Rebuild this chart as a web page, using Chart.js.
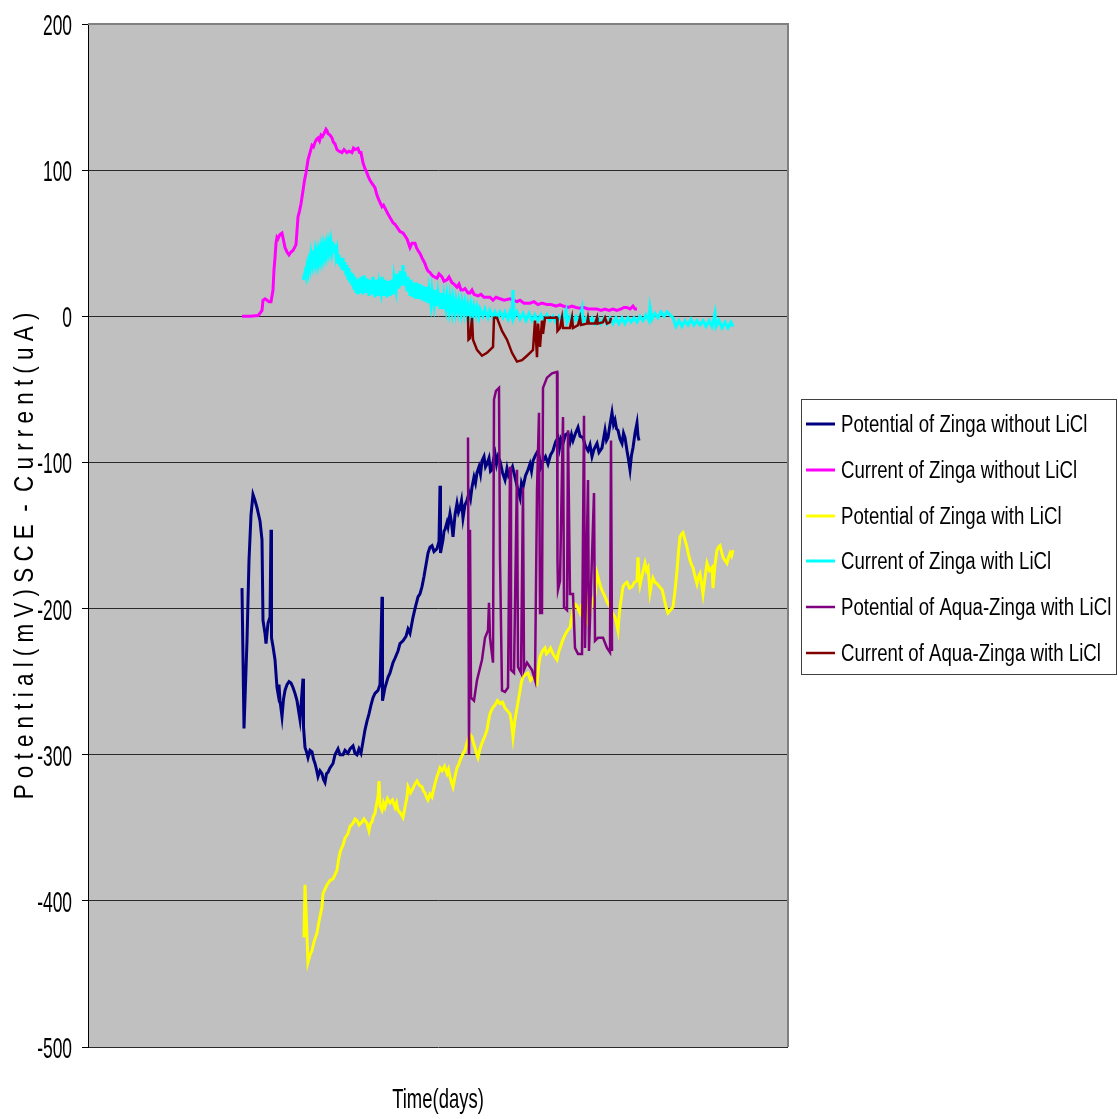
<!DOCTYPE html>
<html>
<head>
<meta charset="utf-8">
<title>Zinga potential and current</title>
<script src="https://cdn.jsdelivr.net/npm/chart.js@4.4.1/dist/chart.umd.min.js"></script>
<style>
  html, body { margin: 0; padding: 0; background: #ffffff; }
  canvas { display: block; }
</style>
</head>
<body>
<canvas id="chart" width="1118" height="1119"></canvas>
<script>
// Series names, in legend order
const seriesNames = [
  'Potential of Zinga without LiCl',
  'Current of Zinga without LiCl',
  'Potential of Zinga with LiCl',
  'Current of Zinga with LiCl',
  'Potential of Aqua-Zinga with LiCl',
  'Current of Aqua-Zinga with LiCl'
];
const seriesColors = ['#000080', '#ff00ff', '#ffff00', '#00ffff', '#800080', '#800000'];

// Axis texts and ticks
const yTickValues = [200, 100, 0, -100, -200, -300, -400, -500];
const yTickLabels = ['200', '100', '0', '-100', '-200', '-300', '-400', '-500'];
const xTitle = 'Time(days)';
const yTitle = 'P o t e n t i a l ( m V ) S C E  -  C u r r e n t ( u A )';

// [time (days), potential (mV SCE)]
const potentialZinga = [
  [15.4,-186],[15.6,-282],[15.9,-222],[16.1,-167],[16.3,-136],[16.5,-122],[16.7,-126],[16.9,-131],[17.2,-140],[17.4,-153],
  [17.5,-208],[17.7,-217],[17.8,-224],[18.0,-210],[18.2,-206],[18.3,-146],[18.35,-220],[18.5,-226],[18.7,-235],[18.9,-254],
  [19.0,-258],[19.1,-252],[19.2,-263],[19.4,-274],[19.55,-262],[19.7,-256],[19.9,-252],[20.1,-250],[20.3,-251],[20.5,-254],
  [20.7,-258],[20.9,-263],[21.2,-276],[21.5,-248],[21.55,-281],[21.7,-295],[21.85,-298],[22.0,-302],[22.2,-297],[22.4,-298],
  [22.55,-303],[22.7,-306],[22.85,-310],[23.0,-315],[23.2,-311],[23.4,-313],[23.55,-317],[23.7,-319],[23.85,-313],[24.0,-312],
  [24.2,-309],[24.5,-306],[24.7,-300],[25.0,-296],[25.2,-300],[25.5,-300],[25.7,-297],[26.0,-299],[26.2,-296],[26.5,-294],
  [26.7,-299],[26.9,-300],[27.1,-296],[27.3,-299],[27.5,-291],[27.7,-283],[27.9,-277],[28.1,-272],[28.3,-266],[28.5,-261],
  [28.7,-258],[29.0,-256],[29.2,-252],[29.4,-192],[29.45,-263],[29.7,-254],[30.0,-247],[30.2,-244],[30.5,-237],[30.7,-234],
  [31.0,-229],[31.2,-224],[31.5,-222],[31.8,-219],[32.0,-214],[32.2,-217],[32.5,-206],[32.7,-200],[33.0,-192],[33.2,-190],
  [33.4,-185],[33.6,-178],[33.7,-174],[33.9,-166],[34.0,-162],[34.2,-158],[34.4,-157],[34.6,-161],[34.9,-159],[35.1,-154],
  [35.2,-116],[35.25,-162],[35.5,-153],[35.6,-147],[35.7,-146],[35.9,-141],[36.0,-144],[36.2,-135],[36.35,-141],[36.5,-151],
  [36.7,-136],[36.9,-128],[37.05,-134],[37.2,-131],[37.35,-126],[37.5,-138],[37.7,-129],[37.9,-126],[38.1,-121],[38.25,-125],
  [38.4,-117],[38.6,-110],[38.75,-114],[38.9,-107],[39.1,-103],[39.25,-108],[39.4,-99],[39.6,-96],[39.75,-103],[39.9,-101],
  [40.1,-97],[40.25,-106],[40.4,-105],[40.55,-98],[40.7,-94],[40.85,-101],[41.0,-96],[41.2,-99],[41.45,-107],[41.7,-112],
  [41.9,-104],[42.05,-109],[42.2,-107],[42.45,-103],[42.7,-110],[42.9,-116],[43.05,-120],[43.2,-124],[43.35,-114],[43.5,-117],
  [43.75,-109],[44.0,-105],[44.2,-101],[44.35,-106],[44.5,-99],[44.75,-95],[45.0,-92],[45.15,-97],[45.3,-103],[45.5,-99],
  [45.75,-96],[46.0,-101],[46.25,-95],[46.5,-92],[46.75,-86],[47.0,-83],[47.15,-90],[47.3,-84],[47.5,-87],[47.75,-81],
  [48.0,-80],[48.2,-86],[48.35,-81],[48.5,-85],[48.75,-80],[49.0,-76],[49.2,-82],[49.5,-83],[49.75,-89],[50.0,-92],
  [50.2,-88],[50.4,-96],[50.6,-91],[50.9,-87],[51.1,-93],[51.4,-90],[51.55,-84],[51.7,-78],[51.85,-85],[52.0,-83],
  [52.2,-74],[52.4,-66],[52.55,-74],[52.7,-71],[52.85,-77],[53.0,-78],[53.2,-84],[53.4,-87],[53.55,-80],[53.7,-83],
  [53.9,-92],[54.05,-98],[54.2,-105],[54.35,-95],[54.5,-90],[54.7,-80],[54.9,-73],[55.0,-82],[55.1,-85]
];

// [time (days), current (uA)]
const currentZinga = [
  [15.4,0],[16.2,0],[17.0,0.5],[17.2,2],[17.4,4],[17.5,11],[17.7,12],[17.9,11],[18.1,10],[18.3,10],
  [18.5,18],[18.6,32],[18.7,40],[18.8,50],[18.9,54],[19.0,53],[19.2,56],[19.4,57],[19.55,52],[19.7,47],
  [19.9,44],[20.1,42],[20.3,44],[20.5,45],[20.65,47],[20.8,49],[21.0,68],[21.15,72],[21.3,77],[21.5,86],
  [21.65,93],[21.8,98],[22.0,107],[22.2,112],[22.4,117],[22.55,116],[22.7,119],[22.85,121],[23.0,122],[23.15,120],
  [23.3,124],[23.45,123],[23.6,125],[23.8,128],[23.9,127],[24.0,125],[24.2,124],[24.4,122],[24.55,119],[24.7,118],
  [24.9,114],[25.1,113],[25.4,112],[25.6,114],[25.9,112],[26.1,113],[26.4,112],[26.55,115],[26.7,114],[27.0,115],
  [27.15,112],[27.3,112],[27.5,105],[27.7,101],[27.9,98],[28.0,96],[28.2,93],[28.4,91],[28.7,88],[28.85,84],
  [29.0,81],[29.2,78],[29.4,75],[29.55,76],[29.7,74],[29.85,72],[30.0,70],[30.25,67],[30.5,64],[30.7,63],
  [31.0,60],[31.2,58],[31.5,57],[31.7,55],[31.9,53],[32.05,50],[32.2,47],[32.4,50],[32.7,50],[32.85,47],
  [33.0,45],[33.2,43],[33.4,40],[33.55,38],[33.7,36],[33.85,33],[34.0,31],[34.2,30],[34.4,28],[34.6,27],
  [34.9,26],[35.1,29],[35.4,27],[35.6,24],[35.9,25],[36.1,27],[36.4,23],[36.6,22],[36.9,20],[37.1,22],
  [37.3,18],[37.5,18],[37.7,19],[38.0,16],[38.2,16],[38.4,18],[38.6,15],[39.0,14],[39.3,15],[39.6,13],
  [40.0,13],[40.2,13],[40.5,11],[40.8,13],[41.2,12],[41.6,11],[42.2,12],[42.5,11],[42.9,10],[43.2,11],
  [43.6,9],[44.2,9],[44.6,10],[45.0,8],[45.4,9],[45.9,8],[46.3,8],[46.8,7],[47.2,8],[47.5,7],
  [48.0,6],[48.4,7],[48.8,6],[49.2,5.5],[49.6,6],[50.0,5],[50.4,5],[50.9,5],[51.3,4],[51.7,5],
  [52.1,4],[52.5,5],[52.9,4],[53.3,5],[53.6,6],[53.9,6],[54.2,5],[54.5,7],[54.7,5],[54.9,5]
];

const potentialZingaLiCl = [
  [21.6,-425],[21.7,-389],[21.8,-406],[22.0,-442],[22.2,-437],[22.4,-434],[22.6,-428],[22.9,-422],[23.1,-414],[23.4,-404],
  [23.5,-395],[23.7,-392],[23.9,-389],[24.2,-386],[24.5,-385],[24.7,-382],[24.9,-379],[25.05,-372],[25.2,-367],[25.35,-364],
  [25.5,-362],[25.7,-357],[26.0,-354],[26.2,-349],[26.5,-347],[26.7,-344],[26.9,-345],[27.1,-348],[27.4,-346],[27.6,-344],
  [27.9,-347],[28.1,-352],[28.25,-347],[28.4,-346],[28.55,-342],[28.7,-340],[28.85,-334],[29.0,-329],[29.1,-318],[29.2,-335],
  [29.4,-338],[29.55,-333],[29.7,-336],[29.95,-330],[30.2,-333],[30.45,-331],[30.7,-336],[30.85,-333],[31.0,-338],[31.25,-340],
  [31.5,-343],[31.7,-336],[31.9,-329],[32.0,-322],[32.25,-326],[32.5,-323],[32.7,-320],[32.9,-318],[33.15,-321],[33.4,-322],
  [33.55,-325],[33.7,-326],[33.85,-329],[34.0,-331],[34.2,-327],[34.4,-329],[34.55,-324],[34.7,-320],[34.85,-316],[35.0,-313],
  [35.2,-309],[35.4,-311],[35.65,-308],[35.9,-313],[36.05,-310],[36.2,-315],[36.35,-319],[36.5,-322],[36.7,-315],[36.9,-309],
  [37.05,-307],[37.2,-304],[37.45,-300],[37.7,-297],[37.85,-293],[38.0,-290],[38.2,-286],[38.4,-288],[38.55,-292],[38.7,-295],
  [38.85,-299],[39.0,-302],[39.2,-296],[39.4,-292],[39.65,-288],[39.9,-283],[40.05,-277],[40.2,-272],[40.45,-268],[40.7,-266],
  [40.95,-263],[41.2,-265],[41.45,-264],[41.7,-268],[41.95,-270],[42.2,-272],[42.35,-278],[42.5,-288],[42.7,-276],[42.9,-268],
  [43.05,-262],[43.2,-256],[43.35,-250],[43.5,-247],[43.75,-245],[44.0,-244],[44.25,-249],[44.5,-247],[44.7,-249],[44.9,-251],
  [45.05,-240],[45.2,-233],[45.45,-229],[45.7,-227],[45.85,-231],[46.0,-230],[46.25,-227],[46.5,-231],[46.7,-233],[46.9,-235],
  [47.05,-230],[47.2,-227],[47.45,-222],[47.7,-218],[47.95,-215],[48.2,-213],[48.35,-207],[48.5,-201],[48.7,-197],[48.9,-198],
  [49.05,-201],[49.2,-203],[49.35,-198],[49.5,-199],[49.7,-204],[49.9,-208],[50.0,-196],[50.2,-203],[50.35,-198],[50.5,-194],
  [50.7,-191],[50.9,-176],[51.1,-181],[51.3,-186],[51.5,-189],[51.7,-192],[51.95,-196],[52.2,-199],[52.45,-203],[52.7,-206],
  [52.85,-210],[53.0,-215],[53.1,-206],[53.2,-199],[53.35,-192],[53.5,-185],[53.7,-183],[53.9,-182],[54.15,-186],[54.4,-185],
  [54.65,-182],[54.9,-181],[55.0,-165],[55.1,-178],[55.2,-184],[55.45,-176],[55.7,-169],[55.85,-174],[56.0,-172],[56.1,-180],
  [56.2,-189],[56.35,-183],[56.5,-179],[56.7,-182],[56.9,-183],[57.15,-185],[57.4,-187],[57.55,-191],[57.7,-196],[57.85,-200],
  [58.0,-203],[58.25,-201],[58.5,-199],[58.7,-188],[58.9,-174],[59.05,-161],[59.2,-151],[59.35,-149],[59.5,-148],[59.7,-153],
  [59.9,-158],[60.05,-163],[60.2,-167],[60.35,-170],[60.5,-172],[60.7,-178],[60.9,-183],[61.05,-178],[61.2,-176],[61.35,-183],
  [61.5,-190],[61.7,-179],[61.9,-169],[62.15,-174],[62.4,-172],[62.5,-186],[62.7,-170],[62.9,-160],[63.05,-158],[63.2,-157],
  [63.35,-161],[63.5,-165],[63.7,-167],[63.9,-169],[64.05,-165],[64.2,-162],[64.35,-164],[64.5,-160]
];

const currentZingaLiCl = [
  [21.5,25],[21.6,27],[21.7,30],[21.8,27],[21.9,34],[22.0,30],[22.1,37],[22.2,33],[22.3,42],[22.4,37],
  [22.5,45],[22.6,38],[22.7,44],[22.8,37],[22.9,43],[23.0,37],[23.1,44],[23.2,39],[23.3,46],[23.4,40],
  [23.5,47],[23.6,41],[23.7,47],[23.8,42],[23.9,49],[24.0,44],[24.1,50],[24.2,45],[24.3,51],[24.4,45],
  [24.5,51],[24.6,43],[24.7,49],[24.8,41],[24.9,45],[25.0,36],[25.1,42],[25.2,34],[25.3,40],[25.4,32],
  [25.5,40],[25.6,31],[25.7,37],[25.8,28],[25.9,35],[26.0,25],[26.1,33],[26.2,23],[26.3,30],[26.4,21],
  [26.5,29],[26.6,18],[26.7,27],[26.8,16],[26.9,25],[27.0,15],[27.1,26],[27.2,16],[27.3,27],[27.5,15],
  [27.6,28],[27.8,16],[27.9,26],[28.1,14],[28.2,25],[28.4,15],[28.5,27],[28.7,13],[28.8,25],[29.0,14],
  [29.1,23],[29.3,16],[29.4,27],[29.6,14],[29.7,25],[29.9,13],[30.0,24],[30.2,14],[30.3,25],[30.5,15],
  [30.6,27],[30.8,18],[30.9,29],[31.1,19],[31.2,31],[31.4,21],[31.5,35],[31.6,21],[31.7,30],[31.9,17],
  [32.0,27],[32.2,14],[32.3,25],[32.5,13],[32.6,23],[32.8,12],[32.9,23],[33.1,12],[33.2,22],[33.4,11],
  [33.5,21],[33.7,10],[33.8,20],[34.0,9],[34.1,18],[34.3,8],[34.4,18],[34.6,8],[34.7,18],[34.9,7],
  [35.0,16],[35.2,6],[35.3,16],[35.5,5],[35.6,14],[35.8,5],[35.9,14],[36.1,4],[36.2,13],[36.4,3],
  [36.5,12],[36.7,3],[36.8,11],[37.0,3],[37.1,10],[37.3,2],[37.4,10],[37.6,2],[37.7,9],[37.9,1],
  [38.0,8],[38.2,1],[38.3,8],[38.5,1],[38.6,7],[38.8,1],[38.9,6],[39.1,0],[39.2,5],[39.5,0],
  [39.7,5],[40.0,-1],[40.2,4],[40.5,-1],[40.7,3],[41.0,-1],[41.2,3],[41.5,-1],[41.7,3],[42.0,-2],
  [42.2,3],[42.4,-1],[42.5,18],[42.6,-1],[42.9,3],[43.2,-2],[43.5,2],[43.8,-3],[44.1,2],[44.4,-3],
  [44.7,1],[45.0,-3],[45.3,1],[45.6,-3],[45.9,1],[46.2,-3],[46.5,0],[46.8,-4],[47.1,0],[47.4,-4],
  [47.8,4],[47.9,-4],[48.2,0],[48.5,-4],[48.8,0],[49.1,-4],[49.4,5],[49.5,-4],[49.8,-1],[50.1,-4],
  [50.4,-1],[50.7,-5],[51.0,-1],[51.3,-5],[51.6,-1],[51.9,-5],[52.2,-1],[52.5,-5],[52.8,-1],[53.1,-5],
  [53.4,-1],[53.7,-5],[54.0,-1],[54.3,-4],[54.6,-1],[54.9,-4],[55.2,0],[55.5,-3],[55.8,1],[56.1,-3],
  [56.2,6],[56.4,-2],[56.7,2],[57.0,-1],[57.3,3],[57.6,0],[57.9,3],[58.2,1],[58.5,-1],[58.8,-7],
  [59.1,-3],[59.4,-7],[59.7,-3],[60.0,-6],[60.3,-2],[60.6,-6],[60.9,-3],[61.2,-6],[61.5,-3],[61.8,-7],
  [62.1,-3],[62.4,-7],[62.7,2],[62.8,-7],[63.1,-3],[63.4,-8],[63.7,-4],[64.0,-8],[64.3,-4],[64.5,-7]
];

const potentialAquaZinga = [
  [38.0,-83],[38.1,-300],[38.2,-146],[38.3,-261],[38.6,-263],[38.9,-249],[39.4,-235],[39.7,-220],[40.0,-215],[40.1,-196],
  [40.2,-220],[40.5,-237],[40.6,-57],[40.8,-51],[41.1,-49],[41.2,-165],[41.4,-256],[41.7,-257],[42.0,-254],[42.2,-103],
  [42.3,-242],[42.6,-244],[42.9,-105],[43.0,-240],[43.3,-244],[43.5,-117],[43.6,-242],[43.9,-237],[44.4,-242],[44.7,-249],
  [44.9,-119],[45.1,-66],[45.2,-203],[45.4,-203],[45.5,-49],[45.9,-42],[46.4,-39],[46.9,-38],[46.95,-167],[47.0,-187],
  [47.2,-181],[47.5,-69],[47.6,-199],[47.9,-201],[48.0,-78],[48.2,-190],[48.5,-190],[48.7,-227],[49.0,-231],[49.4,-231],
  [49.6,-68],[49.7,-227],[50.0,-112],[50.1,-229],[50.6,-121],[50.7,-222],[51.0,-220],[51.5,-220],[51.9,-227],[52.2,-230],
  [52.3,-85],[52.4,-229]
];

const currentAquaZinga = [
  [38.0,0],[38.05,-16],[38.2,-15],[38.4,-1],[38.5,-16],[38.9,-23],[39.4,-27],[39.9,-25],[40.2,-23],[40.5,-21],
  [40.6,-1],[40.9,-1],[41.0,-3],[41.4,-10],[41.9,-16],[42.4,-25],[42.9,-31],[43.4,-30],[43.9,-27],[44.2,-25],
  [44.5,-23],[44.7,-3],[44.9,-28],[45.0,-5],[45.2,-21],[45.4,-3],[45.5,-12],[45.7,-1],[46.9,-1],[46.95,-10],
  [47.2,-8],[47.4,-1],[47.5,-8],[48.2,-8],[48.4,-1],[48.5,-8],[49.0,-6],[49.2,-1],[49.3,-6],[49.9,-5],
  [50.0,-1],[50.1,-5],[50.7,-5],[50.9,-1],[50.95,-5],[51.5,-4],[51.7,-1],[51.9,-5],[52.2,-4],[52.3,-1]
];

const seriesData = [
  potentialZinga, currentZinga, potentialZingaLiCl,
  currentZingaLiCl, potentialAquaZinga, currentAquaZinga
];
const seriesWidths = [3, 3, 3, 3, 2.5, 2.5];

const TEXT_FONT = '"Liberation Sans", Arial, sans-serif';

// Writes text squeezed horizontally, like the condensed face of the original
function condensedText(ctx, text, x, y, sx, align, rotate) {
  ctx.save();
  ctx.translate(x, y);
  if (rotate) ctx.rotate(rotate);
  ctx.scale(sx, 1);
  ctx.textAlign = align;
  ctx.textBaseline = 'alphabetic';
  ctx.fillText(text, 0, 0);
  ctx.restore();
}

// Grey plot area with its frame
const plotFrame = {
  id: 'plotFrame',
  beforeDraw(chart) {
    const {ctx, chartArea: a} = chart;
    ctx.save();
    ctx.fillStyle = '#c0c0c0';
    ctx.fillRect(a.left, a.top, a.right - a.left, a.bottom - a.top);
    ctx.restore();
  },
  beforeDatasetsDraw(chart) {
    const {ctx, chartArea: a} = chart;
    ctx.save();
    ctx.strokeStyle = '#808080';
    ctx.lineWidth = 2;
    ctx.beginPath();
    ctx.moveTo(a.left, a.top);
    ctx.lineTo(a.right, a.top);
    ctx.lineTo(a.right, a.bottom);
    ctx.stroke();
    ctx.restore();
  }
};

// Tick labels and axis titles
const axisTexts = {
  id: 'axisTexts',
  afterDraw(chart) {
    const {ctx, chartArea: a} = chart;
    const y = chart.scales.y;
    ctx.save();
    ctx.fillStyle = '#000000';
    ctx.font = '30px ' + TEXT_FONT;
    yTickValues.forEach((v, i) => {
      condensedText(ctx, yTickLabels[i], 72, y.getPixelForValue(v) + 11, 0.58, 'right');
    });
    ctx.font = '28px ' + TEXT_FONT;
    condensedText(ctx, xTitle, (a.left + a.right) / 2, 1108, 0.66, 'center');
    condensedText(ctx, yTitle, 33, 556, 0.8, 'center', -Math.PI / 2);
    ctx.restore();
  }
};

// Boxed legend at the right of the plot, one row per dataset
const boxedLegend = {
  id: 'boxedLegend',
  afterDraw(chart) {
    const {ctx, chartArea: a} = chart;
    const items = chart.data.datasets;
    const pitch = 45.8;
    const mid = (a.top + a.bottom) / 2 + 3;
    const firstRow = mid - pitch * (items.length - 1) / 2;
    const left = a.right + 13;
    const right = 1117;
    const top = Math.round(firstRow - 25);
    const bottom = Math.round(firstRow + pitch * (items.length - 1) + 21);
    ctx.save();
    ctx.fillStyle = '#ffffff';
    ctx.fillRect(left, top, right - left, bottom - top);
    ctx.strokeStyle = '#404040';
    ctx.lineWidth = 1;
    ctx.strokeRect(left + 0.5, top + 0.5, right - left - 1, bottom - top);
    ctx.font = '23px ' + TEXT_FONT;
    items.forEach((ds, i) => {
      const cy = Math.round(firstRow + pitch * i);
      ctx.strokeStyle = ds.borderColor;
      ctx.lineWidth = ds.borderWidth;
      ctx.beginPath();
      ctx.moveTo(left + 5, cy);
      ctx.lineTo(left + 34, cy);
      ctx.stroke();
      ctx.fillStyle = '#000000';
      condensedText(ctx, ds.label, left + 40, cy + 8, 0.81, 'left');
    });
    ctx.restore();
  }
};

const datasets = seriesNames.map((name, i) => ({
  label: name,
  data: seriesData[i].map(p => ({x: p[0], y: p[1]})),
  borderColor: seriesColors[i],
  backgroundColor: seriesColors[i],
  borderWidth: seriesWidths[i],
  pointRadius: 0,
  pointHoverRadius: 0,
  tension: 0,
  fill: false,
  order: seriesNames.length - i
}));

new Chart(document.getElementById('chart'), {
  type: 'line',
  data: {datasets},
  options: {
    responsive: false,
    animation: false,
    devicePixelRatio: 1,
    parsing: false,
    normalized: true,
    layout: {padding: {top: 24, bottom: 72, left: 0, right: 330}},
    plugins: {
      tooltip: {enabled: false},
      legend: {display: false}
    },
    scales: {
      x: {
        type: 'linear',
        min: 0,
        max: 70,
        display: false,
        grid: {display: false},
        border: {display: false},
        ticks: {display: false}
      },
      y: {
        type: 'linear',
        min: -500,
        max: 200,
        afterFit: (s) => { s.width = 88; },
        afterBuildTicks: (s) => { s.ticks = yTickValues.map(v => ({value: v})); },
        ticks: {display: false, stepSize: 100},
        grid: {
          color: (c) => (c.tick && c.tick.value === 200 ? 'rgba(0,0,0,0)' : '#2a2a2a'),
          lineWidth: 1,
          drawTicks: true,
          tickLength: 6,
          tickColor: '#000000'
        },
        border: {display: true, color: '#000000', width: 1}
      }
    }
  },
  plugins: [plotFrame, axisTexts, boxedLegend]
});
</script>
</body>
</html>
